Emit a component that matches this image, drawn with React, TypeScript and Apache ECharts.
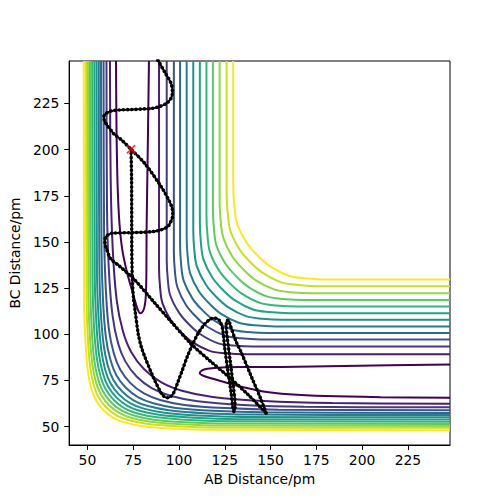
import React, { useEffect, useRef } from "react";
import * as echarts from "echarts";

const xTicks = [50, 75, 100, 125, 150, 175, 200, 225];
const yTicks = [50, 75, 100, 125, 150, 175, 200, 225];

// viridis colours for contour levels 0..12
const levelColors = [
  "#440154", "#481f70", "#443983", "#3b528b", "#31688e", "#287c8e", "#21918c",
  "#20a386", "#35b779", "#5ec962", "#90d743", "#c8e020", "#fde725",
];

// level 0: closed loop in the entrance valley (the exit loop is its mirror image)
const entranceLoop = [
  [65.6, 248], [65.9, 210], [66.5, 180], [67.5, 160], [69, 146], [71.5, 134], [74, 125],
  [76, 118], [77.5, 113.3], [78.8, 111.3], [80.3, 112.4], [81.3, 115.5], [81.9, 121],
  [82.2, 133], [82.3, 156], [82.8, 190], [83.6, 248],
];

// levels 1..12, inner (repulsive wall) contours: half from top edge down to the diagonal
const innerContours = [
  [[62.3, 248], [62.7, 183.9], [63.8, 146.5], [66.0, 118.4], [69.4, 101.6], [73.9, 90.4], [81, 81]],
  [[60.4, 248], [60.7, 168.3], [61.7, 135.1], [63.7, 110.2], [66.7, 95.3], [70.7, 85.3], [77, 77]],
  [[58.8, 248], [59.1, 154.4], [60.0, 125.0], [61.7, 102.9], [64.4, 89.7], [67.9, 80.9], [73.5, 73.5]],
  [[57.4, 248], [57.7, 145.8], [58.5, 118.6], [60.1, 98.2], [62.6, 86.0], [65.8, 77.8], [71, 71]],
  [[56.2, 248], [56.5, 139.4], [57.2, 113.8], [58.8, 94.6], [61.1, 83.1], [64.1, 75.4], [69, 69]],
  [[55.0, 248], [55.2, 135.0], [56.0, 110.4], [57.5, 91.9], [59.7, 80.8], [62.6, 73.5], [67.3, 67.3]],
  [[53.8, 248], [54.0, 131.8], [54.8, 107.8], [56.2, 89.8], [58.4, 79.0], [61.2, 71.8], [65.8, 65.8]],
  [[52.6, 248], [52.8, 129.3], [53.5, 105.7], [55.0, 88.0], [57.1, 77.4], [59.9, 70.3], [64.4, 64.4]],
  [[51.4, 248], [51.6, 126.8], [52.3, 103.6], [53.7, 86.2], [55.8, 75.8], [58.6, 68.8], [63, 63]],
  [[50.3, 248], [50.5, 124.4], [51.2, 101.6], [52.6, 84.5], [54.6, 74.2], [57.4, 67.4], [61.7, 61.7]],
  [[49.3, 248], [49.5, 120.8], [50.2, 98.8], [51.5, 82.3], [53.5, 72.4], [56.1, 65.8], [60.3, 60.3]],
  [[48.0, 248], [48.2, 118.2], [48.9, 96.6], [50.2, 80.4], [52.1, 70.7], [54.7, 64.2], [58.8, 58.8]],
];

// levels 1..12, outer contours: half from top edge down to the diagonal
const outerContours = [
  [[89.1, 248], [89.1, 135.9], [89.7, 125.1], [91.0, 116.7], [95.7, 107.3], [101.1, 101.1]],
  [[93.3, 248], [93.3, 140.5], [93.9, 129.6], [95.2, 121.1], [100.0, 111.7], [105.4, 105.4]],
  [[97.2, 248], [97.2, 144.8], [97.8, 133.8], [99.2, 125.3], [103.9, 115.7], [109.4, 109.4]],
  [[100.6, 248], [100.6, 148.6], [101.2, 137.5], [102.6, 128.9], [107.4, 119.3], [112.9, 112.9]],
  [[104.2, 248], [104.2, 152.6], [104.8, 141.4], [106.2, 132.7], [111.0, 123.0], [116.6, 116.6]],
  [[107.8, 248], [107.8, 156.6], [108.4, 145.3], [109.8, 136.6], [114.7, 126.8], [120.3, 120.3]],
  [[111.4, 248], [111.4, 160.5], [112.0, 149.2], [113.4, 140.4], [118.3, 130.6], [124.0, 124.0]],
  [[115.0, 248], [115.0, 164.5], [115.6, 153.1], [117.0, 144.2], [122.0, 134.3], [127.7, 127.7]],
  [[118.5, 248], [118.5, 168.4], [119.1, 156.9], [120.5, 147.9], [125.5, 138.0], [131.3, 131.3]],
  [[122.2, 248], [122.2, 172.5], [122.8, 160.9], [124.3, 151.9], [129.3, 141.8], [135.1, 135.1]],
  [[126.0, 248], [126.0, 176.7], [126.7, 165.0], [128.1, 155.9], [133.2, 145.8], [139.0, 139.0]],
  [[129.6, 248], [129.6, 181.1], [130.3, 169.2], [131.7, 160.0], [136.9, 149.7], [142.8, 142.8]],
];

const trajectoryA = [
  [88.5, 248.4], [92.5, 241.5], [95.7, 235.8], [96.4, 231], [95.5, 227.5], [93, 225], [89, 223.2],
  [84.9, 222.3], [80, 222], [74.2, 221.7], [68, 221.5], [63.4, 221], [60, 219.5], [58.9, 217.7],
  [59.3, 215.5], [60.7, 213.3], [64.5, 208.5], [68.8, 205.1], [73.8, 200.2], [81.3, 192.5],
  [90.3, 179.9], [94.5, 172.5], [96.2, 168.5], [96.6, 165], [96.2, 162.5], [95, 160], [93.8, 158.2],
  [89.5, 156.3], [84.9, 155.5], [74.2, 155], [63.4, 154.7], [60.5, 153.2], [59.5, 151], [59.8, 148],
  [60.7, 145.6], [62.5, 141.1], [67, 137.3], [75, 130.3], [85.8, 118], [96, 106.5], [106.4, 95],
  [117, 85.5], [127, 77.1], [137.5, 67.5], [147.6, 57.3],
];

const trajectoryB = [
  [73.8, 200.2], [74.1, 185], [74.2, 160], [74.3, 140], [74.6, 128], [75.2, 119], [76, 113],
  [77.7, 100.5], [79.3, 93.5], [81.3, 87.9], [85.8, 77.1], [90.3, 68.1], [92.3, 66], [93.8, 65.6],
  [95.7, 66.4], [97.4, 68.9], [99.2, 73.5], [101.9, 80.7], [104.5, 87.8], [107.3, 94.2],
  [110.3, 100.2], [113.6, 105], [116.5, 107.8], [118.9, 108.7], [120.9, 108.4], [122.5, 106.8],
  [123.9, 102.3], [124.9, 93.3], [126.6, 80.7], [128.5, 68.1], [129.3, 61], [129.9, 58.2],
  [130.6, 59.5], [130.6, 62.8], [129.7, 71.6], [127.9, 86.1], [126.4, 98], [125.8, 104],
  [126.1, 107.4], [127.0, 107.6], [128, 104.8], [131, 96.5], [134.2, 89.7], [139.5, 77.1],
  [144.9, 64.4], [147.6, 57.3],
];

const startPoint = [[73.8, 200.2]];

const FONT = "DejaVu Sans";
const FS = 13.9;

function mirrorHalf(half: number[][]): number[][] {
  const back = half.slice(0, -1).reverse().map(([x, y]) => [y, x]);
  return half.concat(back);
}

function contourSeries(data: number[][], color: string, smooth = 0.35) {
  return {
    type: "line",
    data,
    symbol: "none",
    showSymbol: false,
    smooth,
    silent: true,
    z: 2,
    lineStyle: { width: 2, color },
  };
}

function trajectorySeries(data: number[][]) {
  return [
    {
      type: "line",
      data,
      symbol: "none",
      showSymbol: false,
      smooth: 0.3,
      silent: true,
      z: 5,
      lineStyle: { width: 2, color: "#000" },
    },
    {
      type: "line",
      data,
      symbol: "none",
      showSymbol: false,
      smooth: 0.3,
      silent: true,
      z: 6,
      lineStyle: { width: 3.6, color: "#000", type: [0.01, 4.2], cap: "round" },
    },
  ];
}

export default function App() {
  const ref = useRef<HTMLDivElement>(null);
  useEffect(() => {
    if (!ref.current) return;
    const chart = echarts.init(ref.current, undefined, { renderer: "svg" });
    const series: any[] = [];
    series.push(contourSeries(entranceLoop, levelColors[0], 0.3));
    series.push(contourSeries(entranceLoop.map(([x, y]) => [y, x]), levelColors[0], 0.3));
    innerContours.forEach((half, i) => series.push(contourSeries(mirrorHalf(half), levelColors[i + 1])));
    outerContours.forEach((half, i) => series.push(contourSeries(mirrorHalf(half), levelColors[i + 1])));
    series.push(...trajectorySeries(trajectoryA));
    series.push(...trajectorySeries(trajectoryB));
    series.push({
      type: "scatter",
      data: startPoint,
      symbol: "path://M0 0L10 10M10 0L0 10",
      symbolSize: 8.3,
      z: 10,
      silent: true,
      itemStyle: { color: "rgba(0,0,0,0)", borderColor: "#ff0000", borderWidth: 1.5 },
    });
    const axisCommon = {
      type: "value",
      min: 40,
      max: 248,
      nameLocation: "middle",
      nameTextStyle: { fontFamily: FONT, fontSize: FS, color: "#000" },
      axisLine: { show: true, onZero: false, lineStyle: { color: "#000", width: 1 } },
      splitLine: { show: false },
    };
    chart.setOption({
      animation: false,
      backgroundColor: "#fff",
      grid: { left: 63, top: 61, width: 387, height: 384, show: true, borderColor: "#000", borderWidth: 1, backgroundColor: "transparent" },
      xAxis: {
        ...axisCommon,
        name: "AB Distance/pm",
        nameGap: 27,
        axisTick: { show: true, length: 4.9, customValues: xTicks, lineStyle: { color: "#000" } },
        axisLabel: { customValues: xTicks, fontFamily: FONT, fontSize: FS, color: "#000", margin: 8 },
      },
      yAxis: {
        ...axisCommon,
        name: "BC Distance/pm",
        nameGap: 41,
        axisTick: { show: true, length: 4.9, customValues: yTicks, lineStyle: { color: "#000" } },
        axisLabel: { customValues: yTicks, fontFamily: FONT, fontSize: FS, color: "#000", margin: 9.7 },
      },
      series,
    });
    return () => chart.dispose();
  }, []);
  return <div ref={ref} style={{ position: "fixed", left: 0, top: 0, width: 500, height: 500 }} />;
}
